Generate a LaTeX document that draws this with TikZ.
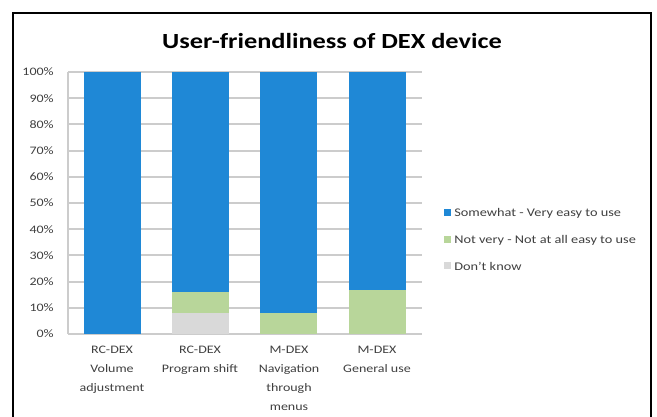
\documentclass[tikz,border=0pt]{standalone}
\usepackage{fontspec}
\setmainfont{Carlito}[FakeStretch=1.22]
\definecolor{barblue}{HTML}{1F88D6}
\definecolor{bargreen}{HTML}{B8D69A}
\definecolor{bargray}{HTML}{D9D9D9}
\definecolor{gridgray}{HTML}{CCCCCC}
\definecolor{txtgray}{HTML}{404040}
\begin{document}
\begin{tikzpicture}[x=0.75pt,y=-0.75pt,
  frame/.style={draw=black,line width=1.8pt},
  grid/.style={draw=gridgray,line width=1.4pt},
  ticklbl/.style={anchor=east,inner sep=0pt,font=\fontsize{8.6pt}{9pt}\selectfont,text=txtgray},
  catlbl/.style={anchor=north,inner sep=0pt,align=center,font=\fontsize{8.6pt}{14.2pt}\selectfont,text=txtgray},
  leglbl/.style={anchor=west,inner sep=0pt,font=\fontsize{8.8pt}{9pt}\selectfont,text=txtgray},
  titlelbl/.style={inner sep=0pt,font=\fontsize{16.2pt}{18pt}\selectfont\bfseries,text=black},
  blue/.style={fill=barblue,draw=none},
  green/.style={fill=bargreen,draw=none},
  grey/.style={fill=bargray,draw=none}]
\useasboundingbox (0,0) rectangle (657,417);
\fill[white] (0,0) rectangle (657,417);
% frame
\draw[frame] (13,420) -- (13,13) -- (651,13) -- (651,420);
% title
\node[titlelbl] (title) at (332,41) {User-friendliness of DEX device};
% grid and ticks
\foreach \i in {0,...,10}{
  \pgfmathsetmacro{\yy}{334-26.2*\i}
  \draw[grid] (68,\yy) -- (422,\yy);
  \pgfmathtruncatemacro{\pct}{10*\i}
  \node[ticklbl] (t\i) at (54,\yy) {\pct\%};
}
\draw[grid] (68,72) -- (68,334);
% bars: y(p) = 334 - 2.62*p
\fill[blue]  (84,334) rectangle (141,72);
\fill[grey]  (172,334) rectangle (229,313);
\fill[green] (172,313) rectangle (229,292);
\fill[blue]  (172,292) rectangle (229,72);
\fill[green] (260,334) rectangle (317,313);
\fill[blue]  (260,313) rectangle (317,72);
\fill[green] (349,334) rectangle (406,290);
\fill[blue]  (349,290) rectangle (406,72);
% category labels
\node[catlbl] (c1) at (112,346) {RC-DEX\\Volume\\adjustment};
\node[catlbl] (c2) at (200,346) {RC-DEX\\Program shift};
\node[catlbl] (c3) at (289,346) {M-DEX\\Navigation\\through\\menus};
\node[catlbl] (c4) at (377,346) {M-DEX\\General use};
% legend
\fill[barblue]  (444,209) rectangle (451,216);
\node[leglbl] (l1) at (454,213) {Somewhat - Very easy to use};
\fill[bargreen] (444,236) rectangle (451,243);
\node[leglbl] (l2) at (454,240) {Not very - Not at all easy to use};
\fill[bargray]  (444,262) rectangle (451,269);
\node[leglbl] (l3) at (454,266) {Don't know};
\end{tikzpicture}
\end{document}
